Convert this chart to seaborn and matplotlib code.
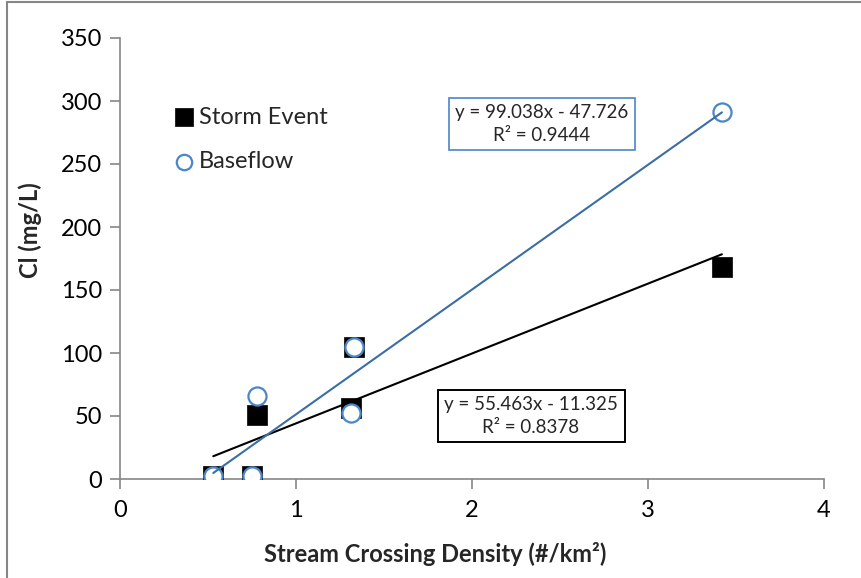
import matplotlib
matplotlib.use("Agg")
import matplotlib.pyplot as plt
import seaborn as sns
import numpy as np
import pandas as pd
from matplotlib.patches import Rectangle

# data
density = [0.53, 0.75, 0.78, 1.31, 1.33, 3.42]
storm_cl = [2, 2, 51, 56, 105, 168]
base_cl = [2, 2, 66, 52, 105, 291]

storm_fit = (55.463, -11.325, 0.8378)
base_fit = (99.038, -47.726, 0.9444)

x_ticks = [0, 1, 2, 3, 4]
y_ticks = [0, 50, 100, 150, 200, 250, 300, 350]

blue_marker = "#4a86c8"
blue_line = "#3b6ea5"
grey = "#868686"

sns.set_theme(style="white")
plt.rcParams["font.family"] = ["Lato", "DejaVu Sans"]

df = pd.DataFrame({
    "density": density * 2,
    "cl": storm_cl + base_cl,
    "series": ["Storm Event"] * len(density) + ["Baseflow"] * len(density),
})

fig = plt.figure(figsize=(8.61, 5.78), dpi=100)
ax = fig.add_axes([120 / 861, 99 / 578, 704 / 861, 441 / 578])

sns.scatterplot(data=df[df.series == "Storm Event"], x="density", y="cl",
                marker="s", s=210, color="black", edgecolor="black",
                linewidth=0.5, ax=ax, label="Storm Event", zorder=3)
sns.scatterplot(data=df[df.series == "Baseflow"], x="density", y="cl",
                marker="o", s=170, facecolor="white", edgecolor=blue_marker,
                linewidth=1.6, ax=ax, label="Baseflow", zorder=4)

# linear trendlines over the data range
xs = np.array([min(density), max(density)])
ax.plot(xs, storm_fit[0] * xs + storm_fit[1], color="black", lw=1.5, zorder=5)
ax.plot(xs, base_fit[0] * xs + base_fit[1], color=blue_line, lw=1.5, zorder=5)

fig.text(542 / 861, 1 - 124 / 578,
         f"y = {base_fit[0]:.3f}x - {abs(base_fit[1]):.3f}\nR² = {base_fit[2]:.4f}",
         ha="center", va="center", fontsize=13.5, linespacing=1.4,
         bbox=dict(boxstyle="square,pad=0.35", fc="white", ec=blue_marker, lw=1.2))
fig.text(531 / 861, 1 - 416 / 578,
         f"y = {storm_fit[0]:.3f}x - {abs(storm_fit[1]):.3f}\nR² = {storm_fit[2]:.4f}",
         ha="center", va="center", fontsize=13.5, linespacing=1.4,
         bbox=dict(boxstyle="square,pad=0.35", fc="white", ec="black", lw=1.4))

ax.set_xlim(0, 4)
ax.set_ylim(0, 350)
ax.set_xticks(x_ticks)
ax.set_yticks(y_ticks)
ax.tick_params(axis="both", labelsize=17, colors=grey, labelcolor="black",
               direction="out", length=7, width=1.2, left=True, bottom=True, pad=6)
ax.tick_params(axis="x", pad=8)
for side in ["top", "right"]:
    ax.spines[side].set_visible(False)
for side in ["left", "bottom"]:
    ax.spines[side].set_color(grey)
    ax.spines[side].set_linewidth(1.2)

ax.set_xlabel("Stream Crossing Density (#/km²)", fontsize=17, fontweight="bold")
ax.set_ylabel("Cl (mg/L)", fontsize=17, fontweight="bold")
ax.xaxis.set_label_coords(0.447, -0.143)
ax.yaxis.set_label_coords(-0.111, 0.565)

leg = ax.legend(loc="upper left", bbox_to_anchor=(0.058, 0.866), frameon=False,
                fontsize=17, handletextpad=0.0, labelspacing=1.0, borderaxespad=0,
                handlelength=1.2, markerscale=0.85)

# outer chart border (left and top visible)
fig.patches.append(Rectangle((7 / 861, -0.1), 2, 1.1 - 1.5 / 578,
                             transform=fig.transFigure, fill=False,
                             ec=grey, lw=1.5, zorder=0))

fig.savefig("out.png", dpi=100)
